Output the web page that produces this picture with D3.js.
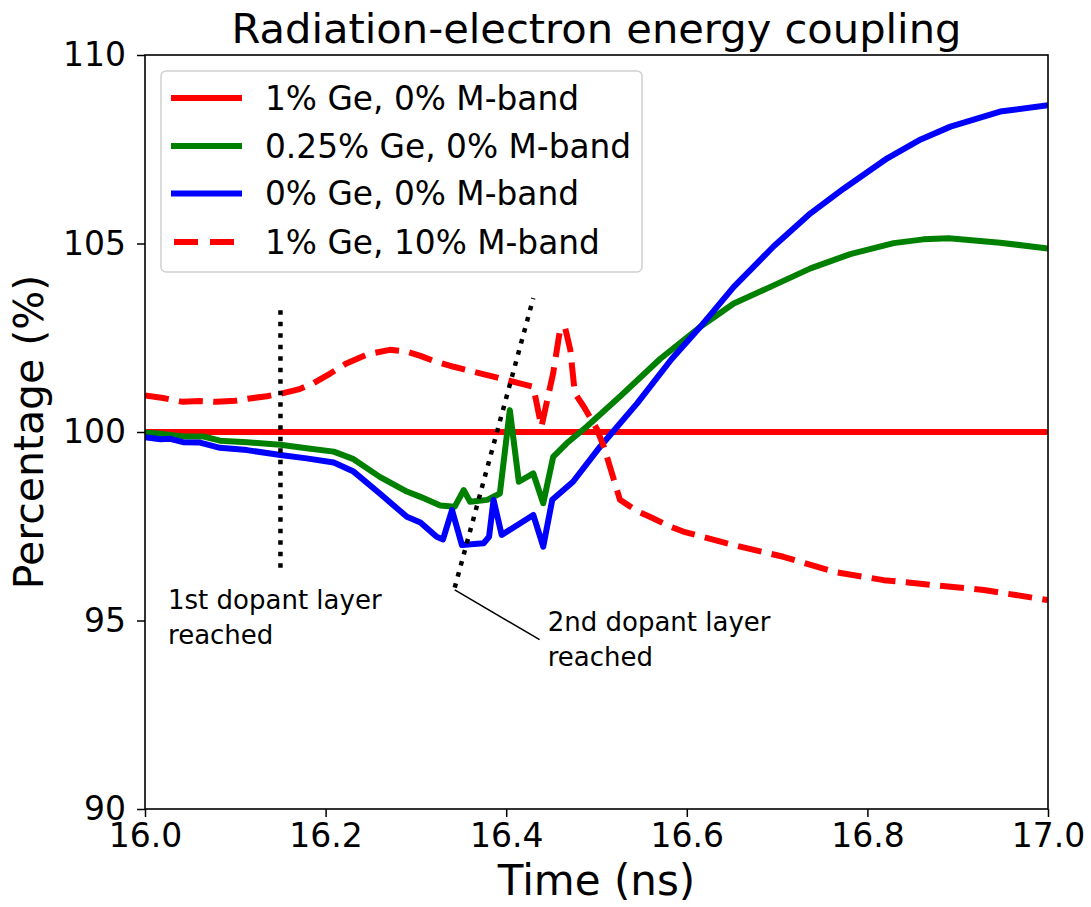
<!DOCTYPE html>
<html>
<head>
<meta charset="utf-8">
<script src="https://cdn.jsdelivr.net/npm/d3@7"></script>
<style>
  html, body { margin: 0; padding: 0; background: #fff; }
  svg { display: block; font-family: "DejaVu Sans", sans-serif; }
</style>
</head>
<body>
<svg id="chart" width="1091" height="907"></svg>
<script>
// ---- data ----
const xTicks = [16.0, 16.2, 16.4, 16.6, 16.8, 17.0];
const yTicks = [90, 95, 100, 105, 110];

const redT = [16.0, 17.0];
const redV = [100, 100];

const greenT = [16.000,16.015,16.028,16.042,16.065,16.083,16.113,16.150,16.179,16.209,16.231,16.260,16.290,16.305,16.327,16.343,16.353,16.360,16.379,16.393,16.404,16.414,16.430,16.441,16.452,16.467,16.489,16.526,16.571,16.615,16.652,16.689,16.737,16.781,16.829,16.862,16.890,16.947,17.000];
const greenV = [99.98,99.96,99.92,99.88,99.88,99.77,99.73,99.66,99.57,99.48,99.28,98.81,98.42,98.28,98.05,98.02,98.46,98.15,98.20,98.37,100.58,98.68,98.90,98.11,99.34,99.70,100.14,100.94,101.95,102.79,103.41,103.81,104.34,104.72,105.01,105.11,105.14,105.02,104.87];

const blueT = [16.000,16.017,16.028,16.042,16.061,16.083,16.113,16.150,16.179,16.209,16.231,16.260,16.290,16.305,16.323,16.330,16.340,16.351,16.375,16.381,16.386,16.395,16.430,16.441,16.451,16.474,16.504,16.545,16.583,16.615,16.652,16.696,16.737,16.774,16.822,16.859,16.892,16.947,17.000];
const blueV = [99.86,99.81,99.82,99.73,99.72,99.58,99.52,99.39,99.30,99.19,98.95,98.37,97.75,97.60,97.22,97.15,97.93,97.00,97.05,97.22,98.20,97.27,97.80,96.96,98.20,98.68,99.61,100.76,101.93,102.79,103.85,104.92,105.80,106.46,107.26,107.76,108.10,108.50,108.67];

const dashT = [16.000,16.020,16.042,16.060,16.079,16.100,16.116,16.135,16.153,16.170,16.186,16.205,16.223,16.245,16.271,16.290,16.305,16.320,16.342,16.379,16.415,16.430,16.439,16.452,16.459,16.465,16.471,16.476,16.486,16.500,16.508,16.526,16.545,16.559,16.582,16.596,16.652,16.707,16.763,16.818,16.873,16.929,17.000];
const dashV = [100.97,100.90,100.80,100.82,100.80,100.83,100.89,100.95,101.03,101.13,101.29,101.55,101.82,102.05,102.18,102.13,102.02,101.88,101.73,101.51,101.29,101.20,100.14,101.56,102.62,102.79,102.18,101.03,100.67,100.10,99.62,98.20,97.90,97.75,97.49,97.36,97.00,96.69,96.29,96.07,95.94,95.81,95.54];

const labels = ["1% Ge, 0% M-band", "0.25% Ge, 0% M-band", "0% Ge, 0% M-band", "1% Ge, 10% M-band"];

// marker lines (time, percentage)
const layer1T = [16.15, 16.15];
const layer1V = [96.4, 103.4];
const layer2T = [16.343, 16.430];
const layer2V = [95.87, 103.55];
const annot2T = [16.343, 16.437];
const annot2V = [95.81, 94.49];

// ---- layout ----
const svg = d3.select("#chart");
const L = 145, R = 1048, T = 55, B = 809;
const x = d3.scaleLinear().domain([16.0, 17.0]).range([L, R]);
const y = d3.scaleLinear().domain([90, 110]).range([B, T]);

svg.append("defs").append("clipPath").attr("id", "clip")
  .append("rect").attr("x", L).attr("y", T).attr("width", R - L).attr("height", B - T);

const line = d3.line().x(d => x(d[0])).y(d => y(d[1]));
const zip = (a, b) => a.map((v, i) => [v, b[i]]);
const DASH = "24,10.4";

const series = [
  {t: redT, v: redV, color: "#ff0000", dash: null},
  {t: greenT, v: greenV, color: "#008000", dash: null},
  {t: blueT, v: blueV, color: "#0000ff", dash: null},
  {t: dashT, v: dashV, color: "#ff0000", dash: DASH}
];

const g = svg.append("g").attr("clip-path", "url(#clip)");
series.forEach(s => {
  g.append("path")
    .attr("d", line(zip(s.t, s.v)))
    .attr("fill", "none")
    .attr("stroke", s.color)
    .attr("stroke-width", 6)
    .attr("stroke-linejoin", "round")
    .attr("stroke-linecap", "butt")
    .attr("stroke-dasharray", s.dash);
});

// dotted layer markers
[[layer1T, layer1V], [layer2T, layer2V]].forEach(([tt, vv]) => {
  g.append("path")
    .attr("d", line(zip(tt, vv)))
    .attr("fill", "none")
    .attr("stroke", "#000")
    .attr("stroke-width", 4.5)
    .attr("stroke-dasharray", "4.5,7");
});
svg.append("path")
  .attr("d", line(zip(annot2T, annot2V)))
  .attr("fill", "none").attr("stroke", "#000").attr("stroke-width", 1.5);

// annotations text
const ann = [
  {t: 16.0255, v: y.invert(609), lines: ["1st dopant layer", "reached"]},
  {t: 16.446, v: y.invert(631), lines: ["2nd dopant layer", "reached"]}
];
ann.forEach(a => {
  const tx = svg.append("text")
    .attr("x", x(a.t)).attr("y", y(a.v))
    .attr("font-size", 26).attr("fill", "#000");
  a.lines.forEach((s, i) => {
    tx.append("tspan").attr("x", x(a.t)).attr("dy", i === 0 ? 0 : 35).text(s);
  });
});

// axes
const xAxis = d3.axisBottom(x).tickValues(xTicks).tickFormat(d3.format(".1f")).tickSize(8).tickPadding(7);
const yAxis = d3.axisLeft(y).tickValues(yTicks).tickFormat(d3.format("d")).tickSize(8).tickPadding(11);

const gx = svg.append("g").attr("transform", `translate(0,${B})`).call(xAxis);
const gy = svg.append("g").attr("transform", `translate(${L},0)`).call(yAxis);
[gx, gy].forEach(a => {
  a.select(".domain").remove();
  a.selectAll(".tick line").attr("stroke", "#000").attr("stroke-width", 1.5);
  a.selectAll(".tick text").attr("font-size", 33).attr("fill", "#000")
    .attr("font-family", "DejaVu Sans, sans-serif");
});

// frame
svg.append("rect").attr("x", L).attr("y", T).attr("width", R - L).attr("height", B - T)
  .attr("fill", "none").attr("stroke", "#000").attr("stroke-width", 1.6);

// legend
const lg = svg.append("g");
lg.append("rect").attr("x", 161).attr("y", 71).attr("width", 481).attr("height", 201)
  .attr("rx", 5).attr("fill", "#fff").attr("fill-opacity", 0.8)
  .attr("stroke", "#d0d0d0").attr("stroke-width", 1.5);
const rowY = [98, 146, 193.5, 242];
series.forEach((s, i) => {
  lg.append("line").attr("x1", s.dash ? 174 : 171).attr("x2", 242).attr("y1", rowY[i]).attr("y2", rowY[i])
    .attr("stroke", s.color).attr("stroke-width", 6)
    .attr("stroke-dasharray", s.dash ? "24,12" : null);
  lg.append("text").attr("x", 265).attr("y", rowY[i]).attr("dy", "0.36em")
    .attr("font-size", 32.8).attr("fill", "#000").text(labels[i]);
});

// title & axis labels
svg.append("text").attr("x", (L + R) / 2).attr("y", 43).attr("text-anchor", "middle")
  .attr("font-size", 41.6).attr("fill", "#000").text("Radiation-electron energy coupling");
svg.append("text").attr("x", (L + R) / 2).attr("y", 895).attr("text-anchor", "middle")
  .attr("font-size", 42).attr("fill", "#000").text("Time (ns)");
svg.append("text").attr("transform", `translate(43,${(T + B) / 2}) rotate(-90)`)
  .attr("text-anchor", "middle").attr("font-size", 41).attr("fill", "#000").text("Percentage (%)");
</script>
</body>
</html>
